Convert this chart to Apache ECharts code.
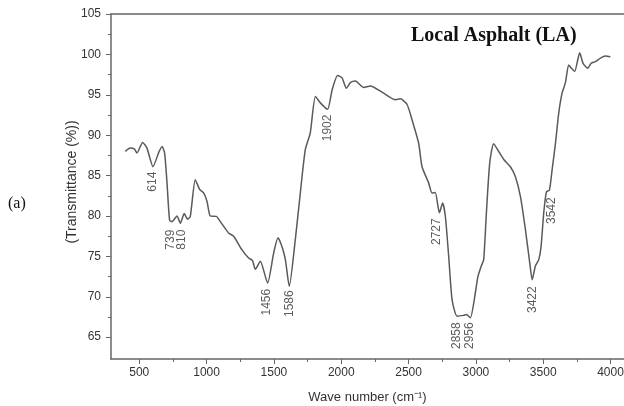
<!DOCTYPE html>
<html>
<head>
<meta charset="utf-8">
<script src="https://cdn.jsdelivr.net/npm/echarts@6/dist/echarts.min.js"></script>
<style>
  html, body { margin: 0; padding: 0; background: #fff; }
  #chart { width: 624px; height: 406px; }
</style>
</head>
<body>
<div id="chart"></div>
<script>
// FTIR spectrum
var waveNumber = [396, 433, 463, 483, 525, 557, 602, 643, 669, 688, 706, 725, 743, 780, 805, 834, 859, 879,
  916, 948, 978, 1003, 1027, 1072, 1102, 1163, 1201, 1263, 1312, 1340, 1362, 1399, 1453, 1498, 1530, 1560,
  1585, 1614, 1659, 1696, 1733, 1770, 1808, 1845, 1899, 1932, 1973, 2006, 2038, 2068, 2105, 2166, 2216,
  2315, 2402, 2439, 2489, 2526, 2575, 2600, 2649, 2674, 2698, 2729, 2753, 2773, 2798, 2823, 2860, 2909,
  2929, 2959, 2996, 3015, 3040, 3058, 3078, 3103, 3132, 3169, 3207, 3256, 3293, 3331, 3368, 3400, 3418,
  3442, 3467, 3484, 3504, 3524, 3546, 3566, 3591, 3615, 3640, 3665, 3689, 3709, 3734, 3756, 3771, 3796,
  3831, 3856, 3888, 3925, 3962, 3999];
var transmittance = [88.0, 88.4, 88.3, 87.8, 89.1, 88.4, 86.1, 87.8, 88.6, 87.8, 84.1, 79.5, 79.3, 80.0, 79.1, 80.3, 79.6, 79.95,
  84.5, 83.3, 82.85, 81.8, 80.0, 79.95, 79.3, 77.9, 77.5, 75.8, 74.8, 74.5, 73.4, 74.4, 71.7, 75.4, 77.3, 76.2,
  74.6, 71.3, 77.1, 82.85, 88.2, 90.3, 94.8, 94.0, 93.2, 95.6, 97.4, 97.1, 95.8, 96.5, 96.7, 95.9, 96.1,
  95.2, 94.4, 94.5, 93.8, 91.9, 89.0, 86.1, 84.1, 82.85, 82.9, 80.4, 81.6, 80.0, 75.0, 69.65, 67.6, 67.7,
  67.8, 67.4, 70.5, 72.5, 73.8, 74.6, 80.4, 86.6, 88.95, 88.0, 87.0, 86.1, 84.9, 82.4, 78.3, 74.2, 72.1,
  73.8, 74.6, 76.2, 80.4, 83.0, 83.2, 85.7, 89.0, 92.7, 95.2, 96.5, 98.7, 98.3, 97.9, 99.3, 100.2, 98.9,
  98.3, 98.9, 99.1, 99.55, 99.8, 99.7];

// peak annotations (text + where the label sits, in data units)
var peakLabels = ['614', '739', '810', '1456', '1586', '1902', '2727', '2858', '2956', '3422', '3542'];
var peakLabelX = [602, 730, 817, 1449, 1617, 1899, 2712, 2860, 2954, 3425, 3561];
var peakLabelY = [84.25, 77.07, 77.07, 69.33, 69.15, 90.9, 78.06, 65.19, 65.19, 69.64, 80.66];

// axis ticks
var xTicks = [500, 1000, 1500, 2000, 2500, 3000, 3500, 4000];
var xMinorTicks = [750, 1250, 1750, 2250, 2750, 3250, 3750];
var yTicks = [65, 70, 75, 80, 85, 90, 95, 100, 105];
var yMinorTicks = [67.5, 72.5, 77.5, 82.5, 87.5, 92.5, 97.5, 102.5];

var font = "'Liberation Sans', Arial, sans-serif";
var axisColor = '#666';
var textColor = '#333';

var lineData = waveNumber.map(function (w, i) { return [w, transmittance[i]]; });
var peakData = peakLabels.map(function (p, i) { return { name: p, value: [peakLabelX[i], peakLabelY[i]] }; });

var chart = echarts.init(document.getElementById('chart'));
chart.setOption({
  animation: false,
  backgroundColor: '#fff',
  grid: { left: 111, right: 0, top: 14, bottom: 47, outerBoundsMode: 'none' },
  title: {
    text: 'Local Asphalt (LA)',
    left: 406, top: 21,
    textStyle: { fontFamily: "'Liberation Serif', 'Times New Roman', serif", fontWeight: 'bold', fontSize: 20, color: '#111' }
  },
  graphic: [{
    type: 'text', left: 8, top: 196,
    style: { text: '(a)', font: "16px 'Liberation Serif', 'Times New Roman', serif", fill: '#111' }
  }, {
    // y axis title
    type: 'text', x: 72, y: 182, rotation: Math.PI / 2,
    style: { text: '(Transmittance (%))', font: "14px 'Liberation Sans', Arial, sans-serif", fill: textColor, align: 'center', verticalAlign: 'middle' }
  }],
  xAxis: [{
    type: 'value', min: 290, max: 4100,
    name: 'Wave number (cm\u207B\u00B9)', nameLocation: 'middle', nameGap: 32,
    nameTextStyle: { fontFamily: font, fontSize: 13, color: textColor },
    axisLine: { show: true, lineStyle: { color: axisColor, width: 1.5 } },
    axisTick: { show: true, customValues: xTicks, length: 5, lineStyle: { color: axisColor } },
    axisLabel: {
      customValues: xTicks, margin: 8, fontFamily: font, fontSize: 12, color: textColor,
      formatter: function (v) { return String(v); }
    },
    splitLine: { show: false }
  }, {
    type: 'value', min: 290, max: 4100, position: 'bottom',
    axisLine: { show: false },
    axisTick: { show: true, customValues: xMinorTicks, length: 3, lineStyle: { color: axisColor } },
    axisLabel: { show: false },
    splitLine: { show: false }
  }, {
    type: 'value', min: 290, max: 4100, position: 'top',
    axisLine: { show: true, lineStyle: { color: axisColor, width: 1.5 } },
    axisTick: { show: false }, axisLabel: { show: false }, splitLine: { show: false }
  }],
  yAxis: [{
    type: 'value', min: 62.3, max: 105,
    axisLine: { show: true, lineStyle: { color: axisColor, width: 1.5 } },
    axisTick: { show: true, customValues: yTicks, length: 5, lineStyle: { color: axisColor } },
    axisLabel: { customValues: yTicks, margin: 10, fontFamily: font, fontSize: 12, color: textColor },
    splitLine: { show: false }
  }, {
    type: 'value', min: 62.3, max: 105, position: 'left',
    axisLine: { show: false },
    axisTick: { show: true, customValues: yMinorTicks, length: 3, lineStyle: { color: axisColor } },
    axisLabel: { show: false },
    splitLine: { show: false }
  }],
  series: [{
    type: 'line',
    data: lineData,
    smooth: 0.2,
    showSymbol: false,
    lineStyle: { color: '#5a5a5a', width: 1.5 }
  }, {
    type: 'scatter',
    data: peakData,
    symbolSize: 0,
    label: {
      show: true, position: 'inside', rotate: 90,
      align: 'center', verticalAlign: 'middle',
      formatter: '{b}', fontFamily: font, fontSize: 12, color: textColor
    }
  }]
});
</script>
</body>
</html>
